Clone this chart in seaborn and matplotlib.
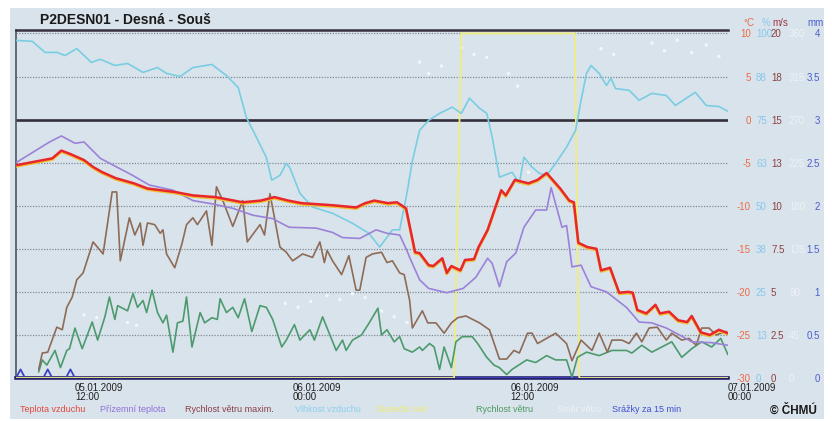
import numpy as np
import pandas as pd
import matplotlib
matplotlib.use("Agg")
import matplotlib.pyplot as plt
import matplotlib.dates as mdates
from matplotlib.patches import Rectangle
from matplotlib.transforms import offset_copy
import seaborn as sns

# hours counted from 05.01.2009 00:00
air_hours = [8.75, 9.75, 10.75, 11.25, 11.75, 12.5, 13.0, 13.5, 14.25, 15.25, 16.0, 17.5, 18.5, 19.75,
             20.75, 21.25, 22.25, 23.0, 23.75, 24.5, 26.25, 27.5, 28.0, 28.5, 29.25, 29.75, 30.25, 30.75,
             31.0, 31.5, 31.75, 32.25, 32.5, 32.75, 33.25, 33.5, 34.0, 34.25, 34.75, 35.5, 35.75, 36.25,
             37.0, 37.5, 38.0, 38.75, 39.25, 39.5, 39.75, 40.25, 40.75, 41.0, 41.5, 42.0, 42.5, 42.75,
             43.0, 43.5, 44.0, 44.25, 44.75, 45.25, 45.75, 46.0, 46.5, 47.0, 47.5, 48.0]
air_temp = [-5.3, -4.9, -4.5, -3.6, -4.0, -4.7, -5.5, -6.1, -6.8, -7.4, -8.0, -8.4, -8.8, -9.0,
            -9.4, -9.6, -9.4, -9.0, -9.4, -9.7, -9.95, -10.2, -9.7, -9.4, -9.7, -9.6, -10.3, -15.4,
            -15.5, -16.9, -17.0, -16.1, -17.8, -17.0, -17.5, -16.3, -16.2, -14.8, -12.8, -8.2, -8.8, -7.0,
            -7.4, -7.0, -6.2, -8.0, -9.4, -9.6, -14.3, -14.8, -15.0, -17.5, -17.2, -20.1, -20.0, -20.1,
            -22.1, -22.5, -21.5, -22.5, -22.3, -23.3, -23.5, -22.8, -24.7, -25.0, -24.4, -24.8]

ground_hours = [8.75, 10.6, 11.25, 12.0, 12.5, 13.4, 14.3, 15.2, 16.1, 17.4, 18.5, 19.6, 20.7, 21.8,
                22.9, 23.8, 25.3, 26.2, 26.75, 27.7, 28.6, 29.2, 29.9, 30.3, 30.45, 31.0, 31.5, 32.5,
                33.4, 34.1, 34.75, 35.0, 35.4, 35.8, 36.3, 36.75, 37.4, 38.0, 38.25, 38.85, 39.1, 39.4,
                39.9, 40.45, 41.3, 42.4, 43.1, 43.8, 44.6, 45.5, 46.0, 47.1, 48.0]
ground_temp = [-5.0, -2.6, -1.9, -2.75, -2.6, -4.5, -5.5, -6.5, -7.6, -8.2, -9.4, -9.8, -10.3, -11.1,
               -11.5, -12.5, -12.6, -13.1, -13.7, -13.8, -12.8, -13.2, -13.4, -15.2, -16.0, -18.6, -19.6, -20.1,
               -19.6, -18.3, -16.1, -16.7, -19.4, -16.5, -15.5, -12.5, -10.5, -10.5, -7.9, -12.5, -12.3, -17.1,
               -16.9, -19.4, -20.0, -21.8, -23.5, -23.6, -24.2, -25.2, -25.8, -25.9, -26.2]

hum_hours = [8.75, 9.65, 10.35, 11.0, 11.45, 12.1, 12.9, 13.4, 14.2, 14.9, 15.75, 16.55, 17.05, 17.8,
             18.5, 19.55, 20.35, 21.0, 21.45, 22.0, 22.55, 22.85, 23.3, 23.65, 23.85, 24.4, 25.1, 26.2,
             27.3, 28.2, 28.8, 29.5, 29.9, 30.3, 30.6, 31.0, 31.5, 32.1, 32.8, 33.3, 33.75, 34.3,
             34.7, 35.0, 35.4, 36.1, 36.5, 36.75, 37.2, 37.6, 38.0, 38.5, 39.1, 39.6, 39.9, 40.2,
             40.45, 40.9, 41.3, 41.55, 41.8, 42.55, 43.1, 43.8, 44.6, 45.1, 45.7, 46.2, 46.8, 47.5, 48.0]
hum_vals = [98, 97.7, 94.5, 94.5, 93.6, 95.6, 91.6, 92.5, 90.7, 91.3, 88.7, 90.1, 88.4, 87.5,
            90.1, 91, 87.8, 84.3, 75.6, 69.9, 64, 57.4, 58.8, 62.3, 61, 53.6, 49.6, 47.8,
            44.9, 42, 38, 43, 43, 53.6, 63, 71.9, 74.8, 76.8, 78.6, 76.8, 81.2, 78.3,
            76.8, 69.9, 58.3, 59.7, 56.5, 64.1, 61.2, 59.4, 58.8, 62.3, 67, 71.9, 80.6, 88.4,
            90.7, 88.4, 84.9, 87, 84, 83.5, 80.6, 82.6, 82, 79.1, 81.2, 82.9, 79.1, 78.8, 77.4]

gust_hours = [10.0, 10.2, 10.5, 11.0, 11.3, 11.55, 11.85, 12.1, 12.45, 13.0, 13.55, 14.05, 14.3, 14.5,
              15.0, 15.3, 15.6, 15.75, 16.0, 16.4, 16.7, 16.85, 17.05, 17.5, 17.9, 18.15, 18.5, 18.75,
              19.25, 19.55, 19.8, 20.15, 20.7, 21.25, 21.5, 22.2, 22.45, 22.75, 23.3, 23.65, 24.0, 24.55,
              25.1, 25.5, 25.75, 25.9, 26.2, 26.7, 27.1, 27.5, 27.7, 28.05, 28.4, 28.9, 29.2, 29.5,
              29.9, 30.15, 30.45, 30.6, 31.15, 31.45, 31.9, 32.35, 32.75, 33.1, 33.55, 34.3, 34.85, 35.4,
              35.8, 36.2, 36.5, 36.95, 37.2, 37.5, 38.0, 38.5, 39.1, 39.4, 39.9, 40.5, 40.9, 41.35,
              41.6, 42.15, 42.55, 42.95, 43.25, 43.65, 44.1, 44.6, 44.9, 45.45, 45.85, 46.25, 46.55, 46.95,
              47.35, 47.9]
gust_vals = [0.5, 1.45, 1.5, 2.95, 2.8, 4.1, 4.7, 5.7, 6.1, 7.9, 7.2, 10.8, 10.8, 6.8,
             9.3, 8.3, 9.0, 7.7, 9.0, 8.9, 8.4, 8.6, 7.2, 6.4, 7.8, 8.9, 9.3, 8.9,
             9.7, 7.7, 11.1, 10.3, 8.8, 10.3, 7.9, 8.9, 8.3, 10.7, 7.6, 7.3, 6.8, 7.2,
             7.0, 7.9, 6.7, 7.4, 6.8, 6.0, 7.1, 5.1, 5.1, 7.0, 7.2, 7.3, 6.7, 6.8,
             6.1, 6.0, 4.5, 2.9, 3.9, 3.2, 3.2, 2.6, 3.2, 3.5, 3.6, 3.2, 2.8, 1.1,
             1.1, 1.6, 1.45, 2.6, 2.6, 2.0, 2.3, 2.6, 2.0, 1.0, 2.2, 1.6, 2.6, 1.5,
             2.2, 2.2, 2.0, 2.6, 2.1, 2.9, 2.95, 2.2, 2.6, 2.2, 2.3, 1.9, 2.9, 2.9,
             2.5, 2.7]

wind_hours = [10.0, 10.2, 10.45, 10.9, 11.2, 11.55, 11.7, 12.0, 12.4, 12.95, 13.25, 13.65, 13.9, 14.2,
              14.35, 14.9, 15.2, 15.45, 15.75, 15.95, 16.25, 16.55, 16.85, 17.05, 17.4, 17.65, 17.95, 18.15,
              18.45, 18.9, 19.15, 19.55, 19.85, 20.0, 20.35, 20.7, 21.0, 21.35, 21.75, 22.2, 22.55, 22.9,
              23.4, 23.65, 24.1, 24.4, 24.95, 25.2, 25.65, 26.4, 26.75, 26.95, 27.3, 27.8, 28.25, 28.7,
              28.9, 29.2, 29.6, 29.9, 30.15, 30.6, 31.0, 31.15, 31.55, 31.8, 32.1, 32.35, 32.75, 33.0,
              33.35, 33.9, 34.2, 34.7, 35.1, 35.4, 35.8, 36.1, 36.9, 37.4, 38.0, 38.5, 39.1, 39.4,
              39.7, 40.2, 40.9, 41.6, 42.4, 42.7, 43.25, 43.8, 44.35, 44.9, 45.45, 46.0, 46.55, 47.1,
              47.6, 48.0]
wind_vals = [0.35, 1.05, 0.75, 1.6, 0.6, 1.6, 1.7, 2.9, 1.7, 3.25, 2.2, 3.55, 4.7, 3.4,
             4.2, 3.9, 4.9, 4.1, 4.5, 3.8, 5.1, 3.8, 3.2, 3.65, 1.5, 3.2, 3.3, 4.7,
             1.8, 3.8, 3.2, 3.5, 3.4, 4.6, 3.8, 4.1, 3.5, 4.6, 2.7, 4.2, 4.1, 3.4,
             1.8, 2.2, 3.1, 2.2, 2.8, 2.2, 3.55, 1.6, 2.2, 1.6, 2.2, 2.5, 3.25, 4.05,
             2.5, 2.8, 2.1, 2.4, 1.7, 1.5, 1.8, 1.6, 2.0, 1.8, 0.5, 1.8, 0.6, 2.1,
             2.4, 2.4, 2.0, 1.2, 0.75, 0.6, 0.2, 0.5, 1.05, 0.9, 1.3, 1.05, 1.05, 0.05,
             1.2, 1.5, 1.3, 1.6, 1.6, 1.45, 1.9, 1.5, 1.8, 2.1, 1.2, 1.7, 2.1, 1.8,
             2.3, 1.35]

sun_hours = [8.75, 32.9, 33.3, 39.55, 39.8, 48.0]
sun_vals = [0, 0, 100, 100, 0, 0]

dir_hours = [12.5, 13.2, 14.9, 15.4, 23.6, 24.3, 25.0, 25.9, 26.6, 27.3, 28.0, 28.9, 29.6, 30.3,
             31.0, 31.5, 32.2, 33.3, 34.0, 34.7, 35.9, 36.4, 37.0, 41.0, 41.7, 43.8, 44.5, 45.2,
             46.0, 46.8, 47.5]
dir_vals = [66, 63, 58, 55, 78, 74, 80, 86, 82, 88, 84, 70, 64, 58,
            330, 318, 326, 345, 338, 335, 318, 305, 215, 344, 338, 350, 342, 353,
            340, 348, 336]

rain_hours = [8.75, 9.0, 9.25, 10.25, 10.5, 10.75, 11.5, 11.75, 12.0, 48.0]
rain_vals = [0, 0.1, 0, 0, 0.1, 0, 0, 0.1, 0, 0]

degc_ticks = [-30, -25, -20, -15, -10, -5, 0, 5, 10]
hum_labels = ["0", "13", "25", "38", "50", "63", "75", "88", "100"]
wind_labels = ["0", "2.5", "5", "7.5", "10", "13", "15", "18", "20"]
dir_labels = ["0", "45", "90", "135", "180", "225", "270", "315", "360"]
rain_labels = ["0", "0.5", "1", "1.5", "2", "2.5", "3", "3.5", "4"]

legend_items = [("Teplota vzduchu", "#e0483c", 20), ("Přízemní teplota", "#9270d8", 100),
                ("Rychlost větru maxim.", "#8a3e4a", 185), ("Vlhkost vzduchu", "#8ccfee", 295),
                ("Sluneční svit", "#f0ec70", 376), ("Rychlost větru", "#4a9a5e", 476),
                ("Směr větru", "#eef2f5", 557), ("Srážky za 15 min", "#4050d0", 612)]


def to_time(hours):
    return pd.Timestamp("2009-01-05") + pd.to_timedelta(np.asarray(hours, dtype=float), unit="h")


BG = "#d9e3eb"
W, H = 832, 421
T_LO, T_HI = -30, 10.4

sns.set_style("white")
plt.rcParams["font.family"] = ["Liberation Sans", "DejaVu Sans"]

fig = plt.figure(figsize=(W / 100, H / 100), dpi=100)
fig.patch.set_facecolor("white")
fig.add_artist(Rectangle((10 / W, 2 / H), 814 / W, 411 / H, transform=fig.transFigure,
                         facecolor=BG, edgecolor="none", zorder=-10))

ax = fig.add_axes([16 / W, 1 - 378 / H, 712 / W, 348 / H])
ax.set_facecolor(BG)

ax_mm = ax.twinx()
ax_dir = ax.twinx()
ax_hum = ax.twinx()
ax_wind = ax.twinx()
ax_t = ax.twinx()

# precipitation
sns.lineplot(x=to_time(rain_hours), y=rain_vals, ax=ax_mm, color="#3a44c0", linewidth=1.3, errorbar=None)
# wind direction as dots
sns.scatterplot(x=to_time(dir_hours), y=dir_vals, ax=ax_dir, color="#f3f6f9", s=6, edgecolor="none")
# humidity + sunshine
sns.lineplot(x=to_time(sun_hours), y=sun_vals, ax=ax_hum, color="#f1ec80", linewidth=1.3, errorbar=None)
sns.lineplot(x=to_time(hum_hours), y=hum_vals, ax=ax_hum, color="#79cde3", linewidth=1.2, errorbar=None)
# wind
sns.lineplot(x=to_time(wind_hours), y=wind_vals, ax=ax_wind, color="#4c9a6e", linewidth=1.2, errorbar=None)
sns.lineplot(x=to_time(gust_hours), y=gust_vals, ax=ax_wind, color="#8e6b57", linewidth=1.2, errorbar=None)
# temperatures
sns.lineplot(x=to_time(ground_hours), y=ground_temp, ax=ax_t, color="#9b82d8", linewidth=1.2, errorbar=None)
sns.lineplot(x=to_time(air_hours), y=air_temp, ax=ax_t, color="#f0c030", linewidth=1.9, errorbar=None)
ax_t.lines[-1].set_transform(offset_copy(ax_t.transData, fig=fig, x=0, y=-1.2, units="dots"))
sns.lineplot(x=to_time(air_hours), y=air_temp, ax=ax_t, color="#e8262b", linewidth=1.8, errorbar=None)

# scales matched to the °C axis
ax.set_ylim(T_LO, T_HI)
ax_t.set_ylim(T_LO, T_HI)
ax_hum.set_ylim((T_LO + 30) * 2.5, (T_HI + 30) * 2.5)
ax_wind.set_ylim((T_LO + 30) / 2, (T_HI + 30) / 2)
ax_dir.set_ylim((T_LO + 30) * 9, (T_HI + 30) * 9)
ax_mm.set_ylim((T_LO + 30) / 10, (T_HI + 30) / 10)
ax.set_xlim(to_time([8.75])[0], to_time([48])[0])

for a in [ax_mm, ax_dir, ax_hum, ax_wind, ax_t]:
    for s in a.spines.values():
        s.set_visible(False)
    a.set_xlabel("")
    a.set_ylabel("")
ax_t.set_yticks([])


def right_labels(axis, ticks, labels, color, pad_px, ha):
    axis.set_yticks(ticks)
    axis.set_yticklabels(labels)
    axis.tick_params(axis="y", which="both", left=False, right=True, labelleft=False, labelright=True,
                     length=0, pad=pad_px * 0.72, labelcolor=color, labelsize=7)
    plt.setp(axis.get_yticklabels(), ha=ha)


ax.yaxis.tick_right()
right_labels(ax, degc_ticks, [str(v) for v in degc_ticks], "#ee6a48", 23, "right")
right_labels(ax_hum, np.linspace(0, 100, 9), hum_labels, "#88c8ec", 28, "left")
right_labels(ax_wind, np.linspace(0, 20, 9), wind_labels, "#8a4040", 43, "left")
right_labels(ax_dir, np.linspace(0, 360, 9), dir_labels, "#eef2f6", 61, "left")
right_labels(ax_mm, np.linspace(0, 4, 9), rain_labels, "#4a5ed0", 92, "right")

# grid and frame
ax.yaxis.grid(True, color="#7f8a96", linestyle=(0, (1, 1.2)), linewidth=0.9)
ax.xaxis.grid(False)
ax.axhline(0, color="#34303a", linewidth=1.9)
ax.spines["right"].set_visible(False)
ax.spines["top"].set_color("#3a3040")
ax.spines["top"].set_linewidth(1.8)
ax.spines["left"].set_color("#50565e")
ax.spines["left"].set_linewidth(1.2)
ax.spines["bottom"].set_color("#27206a")
ax.spines["bottom"].set_linewidth(2.6)

ax.xaxis.set_major_locator(mdates.HourLocator(byhour=[0, 12]))
ax.xaxis.set_minor_locator(mdates.HourLocator(byhour=range(0, 24, 2)))
ax.xaxis.set_major_formatter(mdates.DateFormatter("%d.%m.%Y\n%H:%M"))
ax.tick_params(axis="x", which="major", direction="inout", length=7, width=2.2, color="#15152a",
               labelsize=7, labelcolor="#202020", pad=0)
ax.tick_params(axis="x", which="minor", direction="inout", length=5, width=1, color="#15152a")
plt.setp(ax.get_xticklabels(), ha="left", linespacing=0.95)
ax.set_xlabel("")
ax.set_ylabel("")

# texts
fig.text(40 / W, 1 - 20 / H, "P2DESN01 - Desná - Souš", fontsize=10, fontweight="bold",
         color="#1a1a1a", va="center", ha="left")
for txt, col, xpx in [("°C", "#ee6a48", 743), ("%", "#88c8ec", 762), ("m/s", "#a03848", 772),
                      ("mm", "#4a5ed0", 807)]:
    fig.text(xpx / W, 1 - 23 / H, txt, fontsize=7, color=col, va="center", ha="left")
for txt, col, xpx in legend_items:
    fig.text(xpx / W, 1 - 410 / H, txt, fontsize=6.5, color=col, va="center", ha="left")
fig.text(770 / W, 1 - 411 / H, "© ČHMÚ", fontsize=8.5, fontweight="bold", color="#1a1a1a",
         va="center", ha="left")

fig.savefig("out.png", dpi=100)
